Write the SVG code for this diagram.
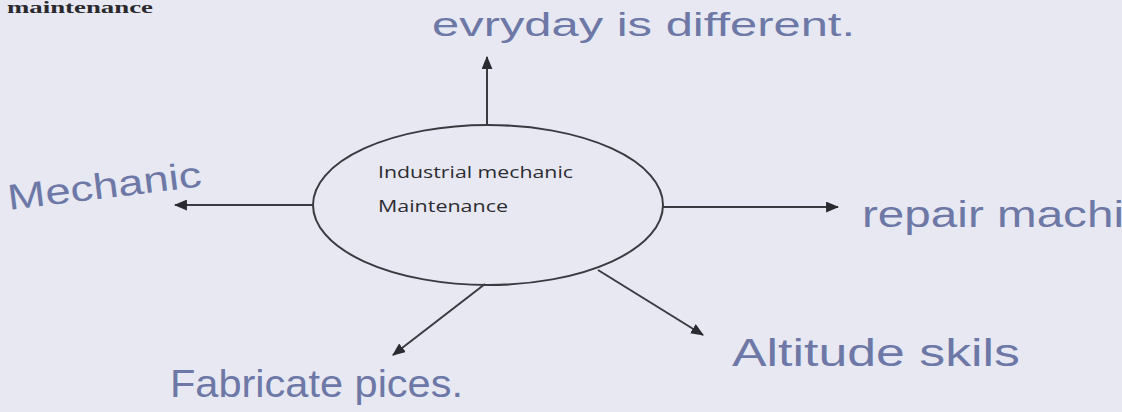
<svg xmlns="http://www.w3.org/2000/svg" width="1122" height="412" viewBox="0 0 1122 412">
<style>
.bg{fill:#e7e8f2}
.hand{font-family:"Liberation Sans","DejaVu Sans",sans-serif;fill:#6d78a6;font-weight:normal}
.line{stroke:#3a3a40;stroke-width:2;fill:none}
.print{font-family:"Open Sans","Liberation Sans",sans-serif;font-size:17px;fill:#2c2c31}
</style>
<defs>
<marker id="arrow" viewBox="0 0 12 10" refX="11" refY="5" markerWidth="13" markerHeight="11" orient="auto" markerUnits="userSpaceOnUse">
<path d="M0,0 L12,5 L0,10 z" fill="#2a2a30"/>
</marker>
</defs>
<rect class="bg" x="0" y="0" width="1122" height="412"/>
<text x="7" y="13" font-family="Liberation Serif,serif" font-weight="bold" font-size="17" fill="#2a2a2e" textLength="146" lengthAdjust="spacingAndGlyphs">maintenance</text>
<g id="connectors">
<line class="line" x1="487" y1="125" x2="487" y2="57" marker-end="url(#arrow)"/>
<line class="line" x1="313" y1="205" x2="175" y2="205" marker-end="url(#arrow)"/>
<line class="line" x1="663" y1="207" x2="838" y2="207" marker-end="url(#arrow)"/>
<line class="line" x1="485" y1="284" x2="393" y2="355" marker-end="url(#arrow)"/>
<line class="line" x1="598" y1="270" x2="703" y2="335" marker-end="url(#arrow)"/>
</g>
<g id="center">
<ellipse cx="488" cy="205" rx="175" ry="80" fill="none" stroke="#3a3a40" stroke-width="2"/>
<text class="print" x="378" y="178" textLength="195" lengthAdjust="spacingAndGlyphs">Industrial mechanic</text>
<text class="print" x="378" y="212" textLength="130" lengthAdjust="spacingAndGlyphs">Maintenance</text>
</g>
<g id="n-top">
<text class="hand" x="432" y="36" font-size="34" textLength="423" lengthAdjust="spacingAndGlyphs">evryday is different.</text>
</g>
<g id="n-left">
<text class="hand" x="9" y="210" font-size="36" transform="rotate(-7 9 210)" textLength="195" lengthAdjust="spacingAndGlyphs">Mechanic</text>
</g>
<g id="n-right">
<text class="hand" x="862" y="227" font-size="36" textLength="262" lengthAdjust="spacingAndGlyphs">repair machi</text>
</g>
<g id="n-bl">
<text class="hand" x="170" y="397" font-size="38" textLength="293" lengthAdjust="spacingAndGlyphs">Fabricate pices.</text>
</g>
<g id="n-br">
<text class="hand" x="732" y="366" font-size="38" textLength="288" lengthAdjust="spacingAndGlyphs">Altitude skils</text>
</g>
</svg>
